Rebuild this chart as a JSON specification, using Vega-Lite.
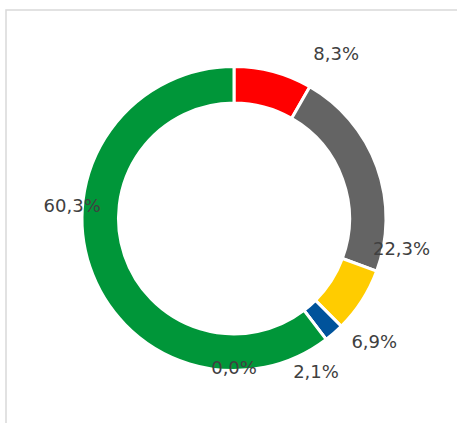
{
  "$schema": "https://vega.github.io/schema/vega-lite/v6.json",
  "width": 456,
  "height": 417,
  "autosize": {"type": "none"},
  "padding": {"left": 6, "top": 10, "right": 0, "bottom": 0},
  "background": "white",
  "view": {"stroke": "#d9d9d9", "strokeWidth": 1.5, "fill": "white"},
  "config": {
    "locale": {"number": {"decimal": ",", "thousands": ".", "grouping": [3], "currency": ["", " €"]}}
  },
  "data": {
    "values": [
      {"category": "A", "share": 0.083, "idx": 1},
      {"category": "B", "share": 0.223, "idx": 2},
      {"category": "C", "share": 0.069, "idx": 3},
      {"category": "D", "share": 0.021, "idx": 4},
      {"category": "E", "share": 0.0, "idx": 5},
      {"category": "F", "share": 0.603, "idx": 6}
    ]
  },
  "encoding": {
    "theta": {"field": "share", "type": "quantitative", "stack": true},
    "order": {"field": "idx", "type": "quantitative"}
  },
  "layer": [
    {
      "mark": {"type": "arc", "outerRadius": 152, "innerRadius": 115.5, "stroke": "white", "strokeWidth": 3},
      "encoding": {
        "color": {
          "field": "category",
          "type": "nominal",
          "scale": {"domain": ["A", "B", "C", "D", "E", "F"], "range": ["#ff0000", "#646464", "#ffcc00", "#00539b", "#a6a6a6", "#009639"]},
          "legend": null
        }
      }
    },
    {
      "mark": {
        "type": "text",
        "radius": 175,
        "font": "DejaVu Sans",
        "fontSize": 18,
        "fill": "#404040",
        "align": "center",
        "baseline": "middle",
        "dx": {"expr": "datum.idx==1?57:datum.idx==2?3:datum.idx==3?-7:datum.idx==4?-33:datum.idx==5?-106:4"},
        "dy": {"expr": "datum.idx==1?6:datum.idx==2?91:datum.idx==3?30:datum.idx==4?23:datum.idx==5?11:-67"}
      },
      "encoding": {
        "text": {"field": "share", "type": "quantitative", "format": ".1%"}
      }
    }
  ]
}
